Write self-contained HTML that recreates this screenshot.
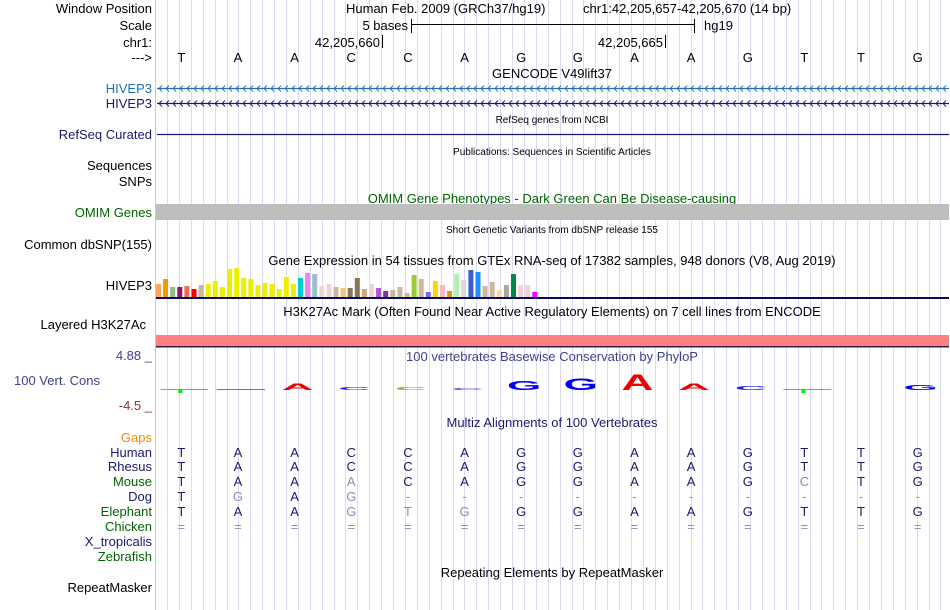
<!DOCTYPE html>
<html><head><meta charset="utf-8"><style>
body{margin:0;background:#fff;}
svg{display:block;font-family:"Liberation Sans",sans-serif;}
</style></head><body>
<svg id="c" width="950" height="610" xmlns="http://www.w3.org/2000/svg">
<g id="grid"></g>
<rect x="155" y="0" width="1" height="610" fill="#ffb0b0"/>
<g font-size="13" text-anchor="end">
<text x="152" y="13" fill="#000">Window Position</text>
<text x="152" y="30" fill="#000">Scale</text>
<text x="152" y="47" fill="#000">chr1:</text>
<text x="152" y="62" fill="#000">---&gt;</text>
<text x="152" y="93" fill="#1f70b8">HIVEP3</text>
<text x="152" y="108" fill="#191970">HIVEP3</text>
<text x="152" y="139" fill="#191970">RefSeq Curated</text>
<text x="152" y="170" fill="#000">Sequences</text>
<text x="152" y="186" fill="#000">SNPs</text>
<text x="152" y="217" fill="#006400">OMIM Genes</text>
<text x="152" y="249" fill="#000">Common dbSNP(155)</text>
<text x="152" y="290" fill="#000">HIVEP3</text>
<text x="146" y="329" fill="#000">Layered H3K27Ac</text>
<text x="152" y="360" fill="#404090">4.88 _</text>
<text x="100" y="385" fill="#404090">100 Vert. Cons</text>
<text x="152" y="410" fill="#883333">-4.5 _</text>
<text x="152" y="442" fill="#e69010">Gaps</text>
<text x="152" y="457" fill="#191970">Human</text>
<text x="152" y="471" fill="#191970">Rhesus</text>
<text x="152" y="486" fill="#006400">Mouse</text>
<text x="152" y="501" fill="#191970">Dog</text>
<text x="152" y="516" fill="#006400">Elephant</text>
<text x="152" y="531" fill="#006400">Chicken</text>
<text x="152" y="546" fill="#191970">X_tropicalis</text>
<text x="152" y="561" fill="#006400">Zebrafish</text>
<text x="152" y="592" fill="#000">RepeatMasker</text>
</g>
<g font-size="13" fill="#000">
<text x="346" y="13">Human Feb. 2009 (GRCh37/hg19)</text>
<text x="583" y="13">chr1:42,205,657-42,205,670 (14 bp)</text>
<text x="408" y="30" text-anchor="end">5 bases</text>
<line x1="411.5" y1="19" x2="411.5" y2="33" stroke="#000"/>
<line x1="411" y1="24.5" x2="695" y2="24.5" stroke="#000"/>
<line x1="694.5" y1="19" x2="694.5" y2="33" stroke="#000"/>
<text x="704" y="30">hg19</text>
<text x="380" y="47" text-anchor="end">42,205,660</text>
<line x1="382.5" y1="35" x2="382.5" y2="48" stroke="#000"/>
<text x="663" y="47" text-anchor="end">42,205,665</text>
<line x1="665.5" y1="35" x2="665.5" y2="48" stroke="#000"/>
</g>
<g id="bases" font-size="13" text-anchor="middle"></g>
<g font-size="13" text-anchor="middle">
<text x="552" y="78" fill="#000">GENCODE V49lift37</text>
<text x="552" y="123" font-size="10" fill="#000">RefSeq genes from NCBI</text>
<text x="552" y="155" font-size="10" fill="#000">Publications: Sequences in Scientific Articles</text>
<text x="552" y="203" fill="#006400">OMIM Gene Phenotypes - Dark Green Can Be Disease-causing</text>
<text x="552" y="233" font-size="10" fill="#000">Short Genetic Variants from dbSNP release 155</text>
<text x="552" y="265" fill="#000">Gene Expression in 54 tissues from GTEx RNA-seq of 17382 samples, 948 donors (V8, Aug 2019)</text>
<text x="552" y="316" fill="#000">H3K27Ac Mark (Often Found Near Active Regulatory Elements) on 7 cell lines from ENCODE</text>
<text x="552" y="361" fill="#404090">100 vertebrates Basewise Conservation by PhyloP</text>
<text x="552" y="427" fill="#191970">Multiz Alignments of 100 Vertebrates</text>
<text x="552" y="577" fill="#000">Repeating Elements by RepeatMasker</text>
</g>
<g id="genes"></g>
<rect x="156" y="204" width="793" height="16" fill="#bebebe"/>
<g id="gtex"></g>
<rect x="156" y="297" width="793" height="2" fill="#0a0a5a"/>
<rect x="156" y="335" width="793" height="11" fill="#ff8080"/>
<rect x="156" y="346" width="793" height="1.5" fill="#302040"/>
<g id="cons"></g>
<g id="aln" font-size="13" text-anchor="middle"></g>
</svg>
<script>
const NS="http://www.w3.org/2000/svg";
const bases=["T","A","A","C","C","A","G","G","A","A","G","T","T","G"];
const gtexValues=[13,18,10,10,11,8,12,13,16,10,28,29,19,18,12,14,13,8,20,13,19,24,23,11,13,10,9,9,19,8,13,9,6,7,10,4,22,18,5,16,12,6,23,17,27,25,11,15,7,12,23,12,12,5];
const gtexColors=["#ffa54f","#ee9a00","#8fbc8f","#8b1c62","#ee6a50","#ff0000","#cdb79e","#eeee00","#eeee00","#eeee00","#eeee00","#eeee00","#eeee00","#eeee00","#eeee00","#eeee00","#eeee00","#eeee00","#eeee00","#eeee00","#00cdcd","#ee82ee","#9ac0cd","#eed5d2","#eed5d2","#cdb79e","#f4c37d","#8b7355","#8b7355","#cdaa7d","#eed5d2","#b452cd","#7a378b","#cdb79e","#cdb79e","#cdb79e","#9acd32","#cdb79e","#7b68ee","#ffd700","#ffb6c1","#cd9b1d","#b4eeb4","#d9d9d9","#3a5fcd","#1e90ff","#cdb79e","#cdb79e","#ffd39b","#a6a6a6","#008b45","#eed5d2","#eed5d2","#ff00ff"];
const consLetters=["-","-","A","C","C","C","G","G","A","A","C","-","","G"];
const consHeights=[1,1,6,3,3,2,9,11,15,6,4,1,0,5];
const consColors=["#22ee22","#ee4444","#ee0000","#2222ee","#a0a020","#4444dd","#0000ee","#0000ee","#ee0000","#ee0000","#2222dd","#22ee22","#000","#0000ee"];
const species=["Human","Rhesus","Mouse","Dog","Elephant","Chicken"];
const alnSeqs=["TAACCAGGAAGTTG","TAACCAGGAAGTTG","TAAACAGGAAGCTG","TGAG----------","TAAGTGGGAAGTTG","=============="];
const alnMatch=["11111111111111","11111111111111","11101111111011","10100000000000","11100011111111","00000000000000"];
const rowY=[457,471,486,501,516,531];
const x0=156,bw=793/14;
const bx=i=>x0+bw*i+bw/2-3;
function mk(t,a,p){const e=document.createElementNS(NS,t);for(const k in a)e.setAttribute(k,a[k]);p.appendChild(e);return e;}
const grid=document.getElementById('grid');
for(let x=167;x<949;x+=11.9){const l=mk('line',{x1:Math.round(x)+.5,y1:0,x2:Math.round(x)+.5,y2:610,stroke:'#dadaf6'},grid);

}
const bg=document.getElementById('bases');
bases.forEach((b,i)=>{const t=mk('text',{x:bx(i),y:62,fill:'#000'},bg);t.textContent=b;

});
const genes=document.getElementById('genes');
[[88,'#1f70b8'],[103,'#191970']].forEach(([y,c])=>{
const l=mk('line',{x1:157,y1:y+.5,x2:949,y2:y+.5,stroke:c,'stroke-width':1.3},genes);


let d='';for(let x=159;x<946;x+=7)d+=`M${x+3},${y-2.5}L${x},${y+.5}L${x+3},${y+3.5}`;
const p=mk('path',{d:d,stroke:c,fill:'none','stroke-width':0.9},genes);

});
const rl=mk('line',{x1:157,y1:134.5,x2:949,y2:134.5,stroke:'#191970','stroke-width':1.3},genes);


const gt=document.getElementById('gtex');
const gBase=297,gScale=1;
gtexValues.forEach((v,i)=>{const r=mk('rect',{x:156+i*7.1,y:gBase-v*gScale,width:5,height:v*gScale,fill:gtexColors[i]},gt);

});
const cg=document.getElementById('cons');const cBase=390;
consLetters.forEach((L,i)=>{const h=consHeights[i],cx=bx(i)+3;if(!L)return;
if(L==='-'){const l=mk('line',{x1:cx-24,y1:cBase-.5,x2:cx+24,y2:cBase-.5,stroke:consColors[i]},cg);


if(consColors[i]==='#22ee22'){const r=mk('rect',{x:cx-6,y:cBase-1,width:4,height:4,fill:'#00ee00'},cg);

}return;}
const s=Math.max(h,1.5)/15;
const t=mk('text',{x:0,y:0,'font-size':21,'font-weight':'bold','text-anchor':'middle',fill:consColors[i],transform:`translate(${cx},${cBase}) scale(2.1,${s*1.05})`},cg);
t.textContent=L;

});
const ag=document.getElementById('aln');
species.forEach((sp,r)=>{for(let i=0;i<14;i++){const ch=alnSeqs[r][i];const m=alnMatch[r][i]==='1';
const t=mk('text',{x:bx(i),y:rowY[r],fill:m?'#191970':'#8a8abb'},ag);t.textContent=ch;

}});
</script>
</body></html>
